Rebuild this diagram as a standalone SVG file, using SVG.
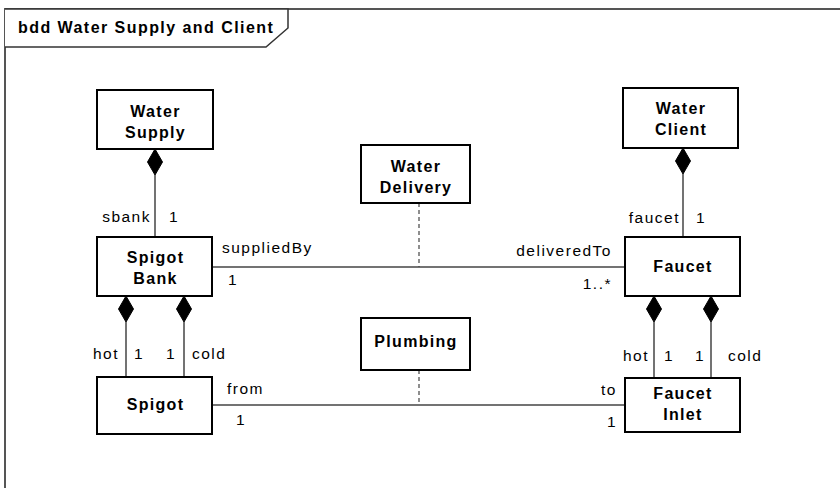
<svg xmlns="http://www.w3.org/2000/svg" width="840" height="488" viewBox="0 0 840 488">
<style>
.box{fill:#fff;stroke:#000;stroke-width:2}
.nt{font-family:"Liberation Sans",Arial,sans-serif;font-weight:bold;font-size:16px;letter-spacing:1.3px;text-anchor:middle;fill:#000}
.lb{font-family:"Liberation Sans",Arial,sans-serif;font-size:15.5px;letter-spacing:1.5px;fill:#000}
.end{text-anchor:end}
.ln{stroke:#444;stroke-width:1.5;fill:none}
.dash{stroke:#444;stroke-width:1.2;stroke-dasharray:4 3;fill:none}
.dia{fill:#000;stroke:#000;stroke-width:1}
</style>
<rect x="0" y="0" width="840" height="488" fill="#fff"/>
<g id="frame">
<rect x="5" y="9" width="860" height="500" fill="none" stroke="#555" stroke-width="2"/>
<path d="M5,9 H288 V28 L266,47 H5" fill="#fff" stroke="#333" stroke-width="1.5"/>
<text x="18" y="33" class="nt" style="text-anchor:start;letter-spacing:1.45px">bdd Water Supply and Client</text>
</g>
<g id="connectors">
<line class="ln" x1="155" y1="175" x2="155" y2="237"/>
<path class="dia" d="M155,149 L162.5,162 L155,175 L147.5,162 Z"/>
<line class="ln" x1="683" y1="174" x2="683" y2="237"/>
<path class="dia" d="M683,148 L690.5,161 L683,174 L675.5,161 Z"/>
<line class="ln" x1="126" y1="322" x2="126" y2="377"/>
<path class="dia" d="M126,296 L133.5,309 L126,322 L118.5,309 Z"/>
<line class="ln" x1="184" y1="322" x2="184" y2="377"/>
<path class="dia" d="M184,296 L191.5,309 L184,322 L176.5,309 Z"/>
<line class="ln" x1="654" y1="322" x2="654" y2="378"/>
<path class="dia" d="M654,296 L661.5,309 L654,322 L646.5,309 Z"/>
<line class="ln" x1="711" y1="322" x2="711" y2="378"/>
<path class="dia" d="M711,296 L718.5,309 L711,322 L703.5,309 Z"/>
<line class="ln" x1="212" y1="267" x2="625" y2="267"/>
<line class="dash" x1="419" y1="203" x2="419" y2="267"/>
<line class="ln" x1="212" y1="405" x2="625" y2="405"/>
<line class="dash" x1="419" y1="370" x2="419" y2="405"/>
<text class="lb end" x="151" y="222">sbank</text>
<text class="lb" x="169" y="222">1</text>
<text class="lb" x="222" y="253">suppliedBy</text>
<text class="lb" x="228" y="285">1</text>
<text class="lb end" x="612" y="256">deliveredTo</text>
<text class="lb end" x="612" y="289">1..*</text>
<text class="lb end" x="680" y="223">faucet</text>
<text class="lb" x="696" y="223">1</text>
<text class="lb end" x="119" y="359">hot</text>
<text class="lb" x="134" y="359">1</text>
<text class="lb" x="166" y="359">1</text>
<text class="lb" x="192" y="359">cold</text>
<text class="lb end" x="649" y="361">hot</text>
<text class="lb" x="664" y="361">1</text>
<text class="lb" x="695" y="361">1</text>
<text class="lb" x="728" y="361">cold</text>
<text class="lb" x="227" y="394">from</text>
<text class="lb" x="236" y="425">1</text>
<text class="lb end" x="617" y="395">to</text>
<text class="lb" x="607" y="427">1</text>
</g>
<g id="water-supply">
<rect class="box" x="97" y="90" width="116" height="59"/>
<text class="nt" x="155.5" y="117">Water</text>
<text class="nt" x="155.5" y="138">Supply</text>
</g>
<g id="water-delivery">
<rect class="box" x="361" y="145" width="109" height="58"/>
<text class="nt" x="416" y="172">Water</text>
<text class="nt" x="416" y="193">Delivery</text>
</g>
<g id="water-client">
<rect class="box" x="623" y="88" width="115" height="60"/>
<text class="nt" x="681" y="114">Water</text>
<text class="nt" x="681" y="135">Client</text>
</g>
<g id="spigot-bank">
<rect class="box" x="97" y="237" width="115" height="59"/>
<text class="nt" x="155.5" y="263">Spigot</text>
<text class="nt" x="155.5" y="284">Bank</text>
</g>
<g id="faucet">
<rect class="box" x="625" y="237" width="115" height="59"/>
<text class="nt" x="683" y="272">Faucet</text>
</g>
<g id="plumbing">
<rect class="box" x="361" y="318" width="109" height="52"/>
<text class="nt" x="416" y="347">Plumbing</text>
</g>
<g id="spigot">
<rect class="box" x="97" y="377" width="115" height="57"/>
<text class="nt" x="155.5" y="410">Spigot</text>
</g>
<g id="faucet-inlet">
<rect class="box" x="625" y="378" width="115" height="54"/>
<text class="nt" x="683" y="399">Faucet</text>
<text class="nt" x="683" y="420">Inlet</text>
</g>
</svg>
